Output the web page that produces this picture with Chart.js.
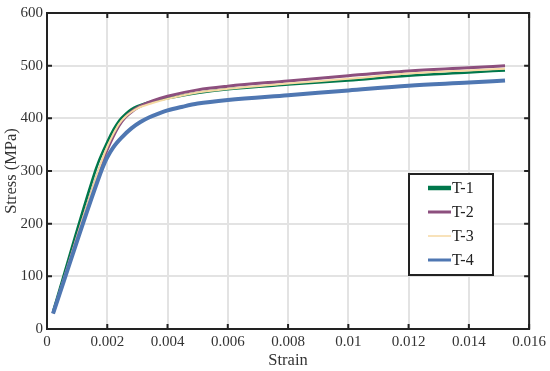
<!DOCTYPE html>
<html>
<head>
<meta charset="utf-8">
<script src="https://cdn.jsdelivr.net/npm/chart.js@4.4.0/dist/chart.umd.min.js"></script>
<style>
html,body{margin:0;padding:0;background:#fff;}
#wrap{width:550px;height:371px;}
</style>
</head>
<body>
<div id="wrap"><canvas id="c" width="550" height="371"></canvas></div>
<script>
const seriesNames = ["T-1", "T-2", "T-3", "T-4"];

const t1Strain = [0.0002,0.0016,0.0017,0.0018,0.002,0.0022,0.0024,0.0026,0.0028,0.003,0.0035,0.004,0.005,0.006,0.008,0.01,0.012,0.014,0.0152];
const t1Stress = [33,300,316,330,355,378,396,408,417,423,432,438,448,455,464,472,481,487,491];

const t2Strain = [0.0002,0.0017,0.0019,0.002,0.0022,0.0024,0.0026,0.0028,0.003,0.0035,0.004,0.005,0.006,0.008,0.01,0.012,0.014,0.0152];
const t2Stress = [30,296,327,341,366,387,402,412,420,433,442,454,461,471,481,490,496,500];

const t3Strain = [0.0002,0.0017,0.0019,0.002,0.0022,0.0024,0.0026,0.0028,0.003,0.0035,0.004,0.005,0.006,0.008,0.01,0.012,0.014,0.0152];
const t3Stress = [30,300,332,346,370,390,403,412,419,429,437,449,456,466,475,485,491,494];

const t4Strain = [0.0002,0.0018,0.0019,0.002,0.0022,0.0025,0.0028,0.0031,0.0034,0.0037,0.004,0.0045,0.005,0.006,0.008,0.01,0.012,0.014,0.0152];
const t4Stress = [29,300,314,326,345,365,381,393,402,409,415,422,428,435,444,453,462,468,472];

const xTicks = [0,0.002,0.004,0.006,0.008,0.01,0.012,0.014,0.016];
const yTicks = [0,100,200,300,400,500,600];

function pts(xs, ys){ return xs.map((x,i)=>({x:x, y:ys[i]})); }

const colors = ["#00774b", "#8c4f7e", "#f6d9a3", "#4f77b2"];
const widths = [2.5, 3, 2, 4];
const legendWidths = [4.5, 3, 1.5, 3];

const FONT = "'Liberation Serif', 'Times New Roman', serif";

const frame = {
  id: 'frame',
  afterDraw(chart){
    const {ctx, chartArea:a, scales:{x, y}} = chart;
    ctx.save();
    ctx.strokeStyle = '#222';
    ctx.lineWidth = 2;
    ctx.beginPath();
    xTicks.forEach(v=>{
      const px = x.getPixelForValue(v);
      ctx.moveTo(px, a.bottom); ctx.lineTo(px, a.bottom-5);
      ctx.moveTo(px, a.top); ctx.lineTo(px, a.top+5);
    });
    yTicks.forEach(v=>{
      const py = y.getPixelForValue(v);
      ctx.moveTo(a.left, py); ctx.lineTo(a.left+5, py);
      ctx.moveTo(a.right, py); ctx.lineTo(a.right-5, py);
    });
    ctx.stroke();
    ctx.strokeRect(a.left, a.top, a.right-a.left, a.bottom-a.top);

    // legend
    const bx = 409, by = 174, bw = 84, bh = 101;
    ctx.fillStyle = '#fff';
    ctx.fillRect(bx, by, bw, bh);
    ctx.strokeStyle = '#222';
    ctx.lineWidth = 2;
    ctx.strokeRect(bx, by, bw, bh);
    ctx.font = "16px " + FONT;
    ctx.textBaseline = 'middle';
    ctx.textAlign = 'left';
    const rows = [188, 212, 236, 260];
    chart.data.datasets.forEach((ds, i)=>{
      const yy = rows[i];
      ctx.strokeStyle = ds.borderColor;
      ctx.lineWidth = legendWidths[i];
      ctx.beginPath();
      ctx.moveTo(428, yy); ctx.lineTo(451, yy);
      ctx.stroke();
      ctx.fillStyle = '#222';
      ctx.fillText(ds.label, 452, yy+1);
    });
    ctx.restore();
  }
};

new Chart(document.getElementById('c'), {
  type: 'line',
  data: {
    datasets: [
      {label: seriesNames[0], data: pts(t1Strain, t1Stress)},
      {label: seriesNames[1], data: pts(t2Strain, t2Stress)},
      {label: seriesNames[2], data: pts(t3Strain, t3Stress)},
      {label: seriesNames[3], data: pts(t4Strain, t4Stress)}
    ].map((d,i)=>Object.assign(d, {
      borderColor: colors[i], backgroundColor: colors[i], borderWidth: widths[i],
      pointRadius: 0, fill: false, cubicInterpolationMode: 'monotone', order: 4 - i
    }))
  },
  options: {
    responsive: false,
    animation: false,
    layout: {padding: {top: 7, right: 18, left: 0, bottom: 0}},
    plugins: {legend: {display: false}, tooltip: {enabled: false}},
    scales: {
      x: {
        type: 'linear', min: 0, max: 0.016,
        afterBuildTicks(s){ s.ticks = xTicks.map(v=>({value:v})); },
        afterFit(s){ s.height = 42; },
        grid: {color: '#e3e3e3', lineWidth: 2, drawTicks: false},
        border: {display: false},
        ticks: {
          padding: 4, color: '#333', font: {family: FONT, size: 15},
          callback: v => String(Number(v.toFixed(4)))
        },
        title: {display: true, text: 'Strain', color: '#333', font: {family: FONT, size: 16.5}, padding: {top: 0, bottom: 0}}
      },
      y: {
        min: 0, max: 600,
        afterBuildTicks(s){ s.ticks = yTicks.map(v=>({value:v})); },
        afterFit(s){ s.width = 47; },
        grid: {color: '#e3e3e3', lineWidth: 2, drawTicks: false},
        border: {display: false},
        ticks: {padding: 4, color: '#333', font: {family: FONT, size: 15}},
        title: {display: true, text: 'Stress (MPa)', color: '#333', font: {family: FONT, size: 16.5}, padding: {top: 2, bottom: 0}}
      }
    }
  },
  plugins: [frame]
});
</script>
</body>
</html>
